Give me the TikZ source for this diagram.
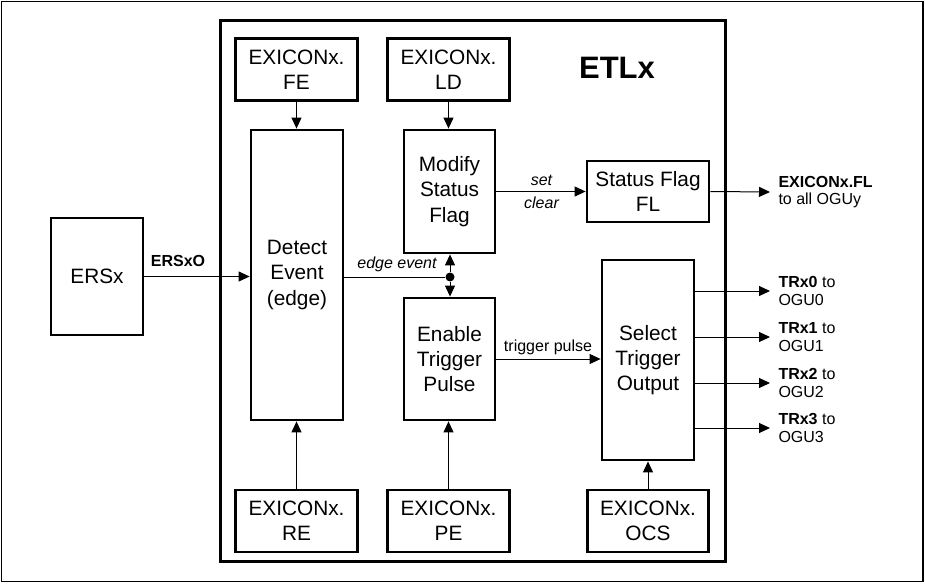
\documentclass[tikz,border=0pt]{standalone}
\usepackage{fontspec}
\setmainfont{Liberation Sans}
\usetikzlibrary{arrows.meta}

\def\boxfont{\fontsize{10.4}{12.6}\selectfont}
\def\labfont{\fontsize{8}{8.7}\selectfont}

\begin{document}
\begin{tikzpicture}[x=0.5pt,y=-0.5pt,line width=0.5pt,>={Triangle[length=5.5pt,width=5pt]}]
\tikzstyle{block}=[draw,line width=1.4pt,align=center,font=\boxfont,inner sep=0pt]
\tikzstyle{reg block}=[block,minimum width=60.75pt,minimum height=31pt]
\tikzstyle{unit block}=[block,minimum width=46pt]
\tikzstyle{sig}=[font=\labfont,inner sep=1pt]
\tikzstyle{out label}=[font=\labfont,align=left,anchor=west,inner sep=4pt]

% Frame round the picture
\useasboundingbox (0,0) rectangle (925,583);
\draw[line width=0.7pt] (1.5,1.5) rectangle (923,581.5);

% Draw the ETLx block
\node[draw,line width=1.5pt,minimum width=252.5pt,minimum height=270.5pt] (ETL) at (472.5,291) {};
\node[font=\fontsize{15.5}{18}\selectfont\bfseries] (ETL-name) at (617,68) {ETLx};

% Draw the register nodes
\foreach \name / \x / \y in {FE/296.5/69.5, LD/448.5/69.5, RE/296.5/521, PE/448.5/521, OCS/648/521}
\node[reg block] (\name) at (\x,\y) {EXICONx.\\\name};

% Draw the function blocks
\node[unit block,minimum height=58.5pt] (ERSx) at (97,276.5) {ERSx};
\node[unit block,minimum height=145pt] (Detect) at (297,275) {Detect\\Event\\(edge)};
\node[unit block,minimum width=45.5pt,minimum height=61.5pt] (Modify) at (449.5,191.5) {Modify\\Status\\Flag};
\node[unit block,minimum width=45.5pt,minimum height=61pt] (Enable) at (449.5,359) {Enable\\Trigger\\Pulse};
\node[unit block,minimum height=100pt] (Select) at (648,360) {Select\\Trigger\\Output};
\node[block,minimum width=61pt,minimum height=30.5pt] (Status) at (648,191.5) {Status Flag\\FL};

% Register inputs
\draw[->] (FE.south) -- (FE.south |- Detect.north);
\draw[->] (LD.south) -- (LD.south |- Modify.north);
\draw[->] (RE.north) -- (RE.north |- Detect.south);
\draw[->] (PE.north) -- (PE.north |- Enable.south);
\draw[->] (OCS.north) -- (OCS.north |- Select.south);

% Event path
\draw[->] (ERSx.east) -- (ERSx.east -| Detect.west);
\node[sig,font=\labfont\bfseries] (ERSxO) at (178,261) {ERSxO};

\node[circle,fill,inner sep=0pt,minimum size=4.5pt] (ev) at (450,277) {};
\draw (Detect.east |- ev) -- (ev);
\node[sig,font=\labfont\itshape] (edge) at (397,264) {edge event};
\draw[->] (ev) -- (ev |- Modify.south);
\draw[->] (ev) -- (ev |- Enable.north);

% Flag path
\draw[->] (Modify.east) -- (Modify.east -| Status.west);
\node[sig,font=\labfont\itshape] (set) at (541.5,180) {set};
\node[sig,font=\labfont\itshape] (clear) at (541.5,202.5) {clear};

\node[out label] (FL) at (770,192) {\textbf{EXICONx.FL}\\to all OGUy};
\draw[->] (Status.east) -- (FL.west);

% Trigger path
\draw[->] (Enable.east) -- (Enable.east -| Select.west);
\node[sig] (pulse) at (548,347) {trigger pulse};

% Write output labels
\foreach \i / \y in {0/291, 1/337, 2/383, 3/428}
{
\node[out label] (TR\i) at (770,\y) {\textbf{TRx\i} to\\OGU\i};
\draw[->] (TR\i.west -| Select.east) -- (TR\i.west);
}

\end{tikzpicture}
\end{document}
